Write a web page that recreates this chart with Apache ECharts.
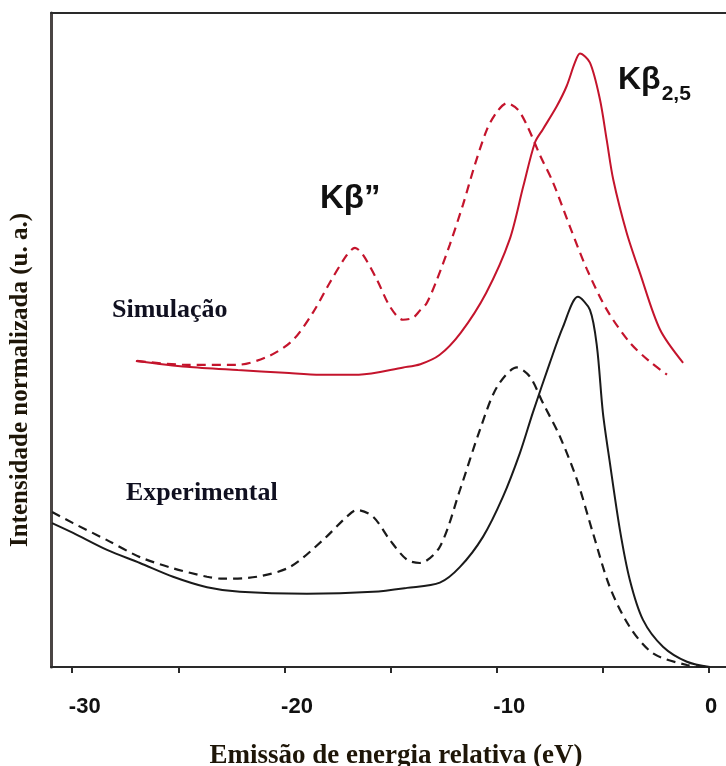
<!DOCTYPE html>
<html>
<head>
<meta charset="utf-8">
<script src="https://cdn.jsdelivr.net/npm/echarts@6/dist/echarts.min.js"></script>
<style>
  html, body { margin: 0; padding: 0; background: #fff; }
  #chart { width: 726px; height: 766px; }
</style>
</head>
<body>
<div id="chart"></div>
<script>
// Relative emission energy (eV) and normalised intensity (arb. units) for each curve

// Simulation, Kβ2,5 profile (solid red)
const simSolidX = [-27.0, -24.6, -22.2, -20.0, -18.3, -16.5, -14.4, -13.6, -12.7, -11.7, -10.5, -9.4, -8.75, -8.2, -7.83, -7.18, -6.71, -6.32, -6.08, -5.61, -5.14, -4.82, -4.51, -3.88, -3.26, -2.31, -1.22];
const simSolidY = [46.8, 45.9, 45.4, 45.0, 44.7, 44.7, 45.8, 46.3, 47.7, 51.1, 57.2, 65.3, 73.5, 80.2, 82.2, 85.7, 88.8, 92.4, 93.8, 92.4, 86.8, 80.6, 74.5, 66.4, 60.3, 51.6, 46.5];

// Simulation, profile with Kβ'' satellite (dashed red)
const simDashX = [-26.95, -24.6, -22.24, -20.7, -19.6, -18.66, -17.86, -17.06, -16.68, -16.3, -15.64, -15.03, -14.42, -13.95, -13.62, -13.29, -12.82, -12.21, -11.59, -11.03, -10.46, -9.99, -9.52, -9.0, -8.53, -7.97, -7.35, -6.55, -5.75, -4.81, -3.73, -2.79, -1.98];
const simDashY = [46.8, 46.2, 46.2, 47.6, 50.0, 54.2, 58.8, 63.0, 64.1, 63.0, 59.2, 55.1, 53.1, 53.4, 54.5, 55.7, 59.2, 64.6, 70.7, 76.8, 82.2, 84.9, 86.2, 85.2, 82.5, 78.3, 74.1, 67.3, 60.8, 54.6, 49.6, 46.7, 44.7];

// Experimental, Kβ2,5 profile (solid black)
const expSolidX = [-30.95, -29.96, -28.36, -26.81, -25.25, -23.65, -22.1, -18.94, -15.83, -14.23, -12.68, -11.73, -10.65, -9.71, -8.91, -8.30, -7.5, -6.88, -6.18, -5.61, -5.28, -5.0, -4.67, -4.2, -3.73, -3.11, -2.17, -1.04, 0.04];
const expSolidY = [22.0, 20.5, 17.9, 15.9, 13.8, 12.2, 11.5, 11.2, 11.5, 12.1, 12.9, 15.3, 19.9, 26.0, 32.7, 38.9, 46.5, 52.0, 56.6, 54.6, 49.0, 38.9, 31.2, 21.0, 13.3, 7.2, 3.1, 0.8, 0.0];

// Experimental, profile with Kβ'' satellite (dashed black)
const expDashX = [-30.95, -29.96, -28.36, -26.81, -25.25, -23.65, -22.9, -21.3, -19.74, -18.19, -17.06, -16.59, -15.83, -15.03, -14.23, -13.62, -12.68, -11.73, -10.79, -9.99, -9.05, -8.44, -7.83, -7.02, -6.22, -5.47, -4.67, -3.73, -2.64, -1.04, 0.04];
const expDashY = [23.7, 22.0, 19.4, 16.8, 15.1, 13.8, 13.5, 13.8, 15.3, 19.4, 23.0, 24.0, 23.0, 19.4, 16.4, 15.9, 18.4, 27.1, 36.3, 42.8, 45.8, 44.4, 40.4, 35.2, 28.6, 20.5, 12.2, 6.1, 2.1, 0.3, 0.0];

// Axis ticks and labels
const tickValues = [-30, -25, -20, -15, -10, -5, 0];
const labelValues = [-30, -20, -10, 0];

const zip = (xs, ys) => xs.map((x, i) => [x, ys[i]]);

const RED = '#c4142c';
const BLACK = '#1a1a1a';
const SANS = '"Liberation Sans", Arial, sans-serif';
const SERIF = '"Liberation Serif", "Times New Roman", serif';

const chart = echarts.init(document.getElementById('chart'), null, { renderer: 'canvas' });

const lineSeries = (name, xs, ys, color, dashed) => ({
  name,
  type: 'line',
  data: zip(xs, ys),
  showSymbol: false,
  smooth: 0.3,
  lineStyle: dashed ? { color, width: 2.2, type: [9, 6] } : { color, width: 2 }
});

// Tick labels sit a little to the right of their ticks; zero sits almost centred
const tickLabelStyle = { fontFamily: SANS, fontWeight: 'bold', fontSize: 22, color: '#111' };

chart.setOption({
  backgroundColor: '#ffffff',
  animation: false,
  grid: { left: 51, right: 0, top: 13, bottom: 99 },
  xAxis: [
    {
      type: 'value',
      min: -31,
      max: 0.8,
      position: 'bottom',
      splitLine: { show: false },
      axisLine: { show: true, onZero: false, lineStyle: { color: '#2a2a2a', width: 2 } },
      axisTick: { show: true, customValues: tickValues, length: 6, lineStyle: { color: '#2a2a2a', width: 2 } },
      axisLabel: {
        customValues: labelValues,
        margin: 29,
        formatter: (v) => (v === 0 ? '{z|0}' : '{n|' + v + '}'),
        rich: {
          n: Object.assign({ padding: [0, 0, 0, 25] }, tickLabelStyle),
          z: Object.assign({ padding: [0, 0, 0, 4] }, tickLabelStyle)
        }
      }
    },
    {
      type: 'value',
      min: -31,
      max: 0.8,
      position: 'top',
      splitLine: { show: false },
      axisLine: { show: true, onZero: false, lineStyle: { color: '#2a2a2a', width: 2 } },
      axisTick: { show: false },
      axisLabel: { show: false }
    }
  ],
  yAxis: {
    type: 'value',
    min: 0,
    max: 100,
    position: 'left',
    splitLine: { show: false },
    axisLine: { show: true, onZero: false, lineStyle: { color: '#4a4544', width: 3 } },
    axisTick: { show: false },
    axisLabel: { show: false }
  },
  series: [
    lineSeries('Simulação Kβ2,5', simSolidX, simSolidY, RED, false),
    lineSeries('Simulação Kβ\'\'', simDashX, simDashY, RED, true),
    lineSeries('Experimental Kβ2,5', expSolidX, expSolidY, BLACK, false),
    lineSeries('Experimental Kβ\'\'', expDashX, expDashY, BLACK, true)
  ],
  graphic: [
    {
      type: 'text', left: 320, top: 182,
      style: { text: 'Kβ”', font: 'bold 33px ' + SANS, fill: '#111' }
    },
    {
      type: 'text', x: 618, y: 64,
      style: {
        text: '{a|Kβ}{b|2,5}',
        rich: {
          a: { font: 'bold 32px ' + SANS, fill: '#111', verticalAlign: 'bottom' },
          b: { font: 'bold 21px ' + SANS, fill: '#111', verticalAlign: 'bottom', padding: [0, 0, -9, 1] }
        }
      }
    },
    {
      type: 'text', left: 112, top: 297,
      style: { text: 'Simulação', font: 'bold 26px ' + SERIF, fill: '#101020' }
    },
    {
      type: 'text', left: 126, top: 480,
      style: { text: 'Experimental', font: 'bold 26px ' + SERIF, fill: '#101020' }
    },
    {
      type: 'text', x: 21, y: 380, rotation: Math.PI / 2,
      style: {
        text: 'Intensidade normalizada (u. a.)',
        font: 'bold 25px ' + SERIF, fill: '#1e1608',
        align: 'center', verticalAlign: 'middle'
      }
    },
    {
      type: 'text', x: 396, y: 756,
      style: {
        text: 'Emissão de energia relativa (eV)',
        font: 'bold 27px ' + SERIF, fill: '#1e1608',
        align: 'center', verticalAlign: 'middle'
      }
    }
  ]
});
</script>
</body>
</html>
